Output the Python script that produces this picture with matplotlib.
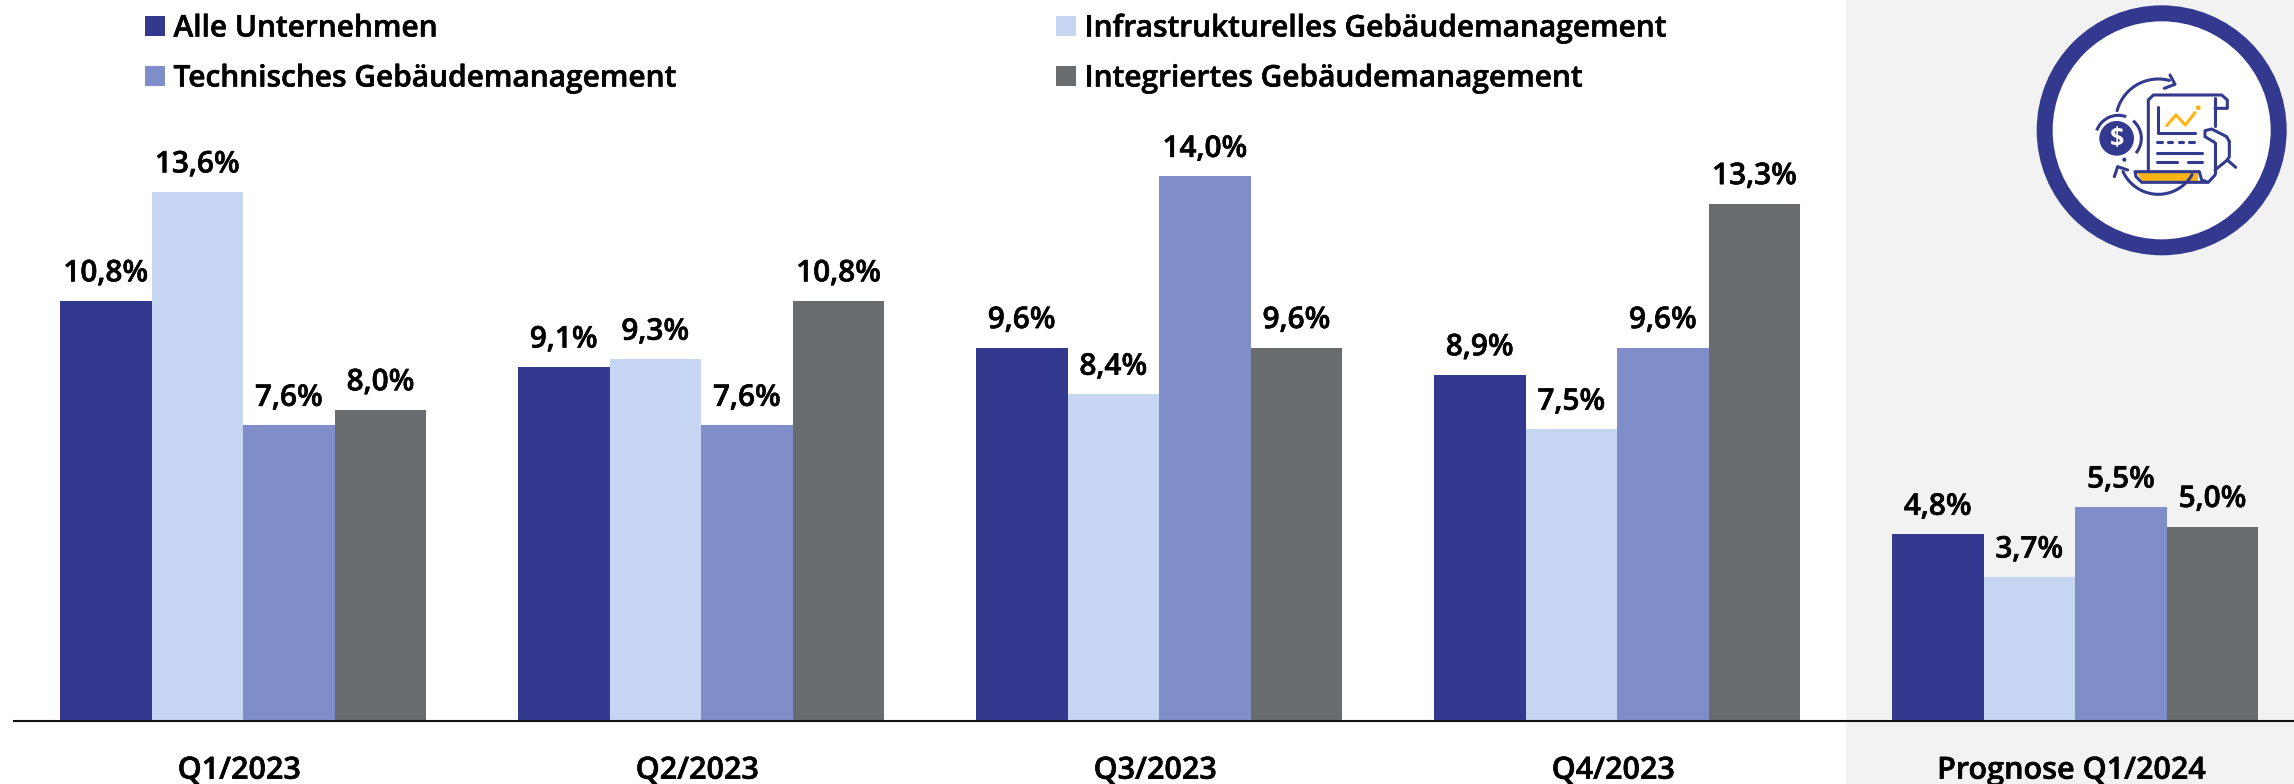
import numpy as np
import matplotlib
matplotlib.use("Agg")
import matplotlib.pyplot as plt
import matplotlib.patheffects as pe
from matplotlib.patches import Circle, Polygon, Rectangle, Arc
from matplotlib.transforms import ScaledTranslation

plt.rcParams['font.family'] = ['Open Sans', 'DejaVu Sans']

quartale = ["Q1/2023", "Q2/2023", "Q3/2023", "Q4/2023", "Prognose Q1/2024"]
alle = [10.8, 9.1, 9.6, 8.9, 4.8]
infra = [13.6, 9.3, 8.4, 7.5, 3.7]
technisch = [7.6, 7.6, 14.0, 9.6, 5.5]
integriert = [8.0, 10.8, 9.6, 13.3, 5.0]

namen = ["Alle Unternehmen", "Infrastrukturelles Gebäudemanagement",
         "Technisches Gebäudemanagement", "Integriertes Gebäudemanagement"]
farben = ["#32398E", "#C5D5F2", "#7F8DC8", "#686C6E"]
serien = [alle, infra, technisch, integriert]

W, H = 2294, 784
fig = plt.figure(figsize=(W/100, H/100), dpi=100, facecolor="white")

# semibold plus ein wenig Kontur
dick = [pe.withStroke(linewidth=0.4, foreground="black")]

# grauer Bereich fuer die Prognose
fig.add_artist(Rectangle((1846/W, 0), (W-1846)/W, 1, transform=fig.transFigure,
                         facecolor="#F2F2F2", edgecolor="none", zorder=0))

base = 721
ax = fig.add_axes([14/W, 1-base/H, (W-14)/W, base/H])
ax.patch.set_alpha(0)
ax.set_xlim((14-243.2)/458, (W-243.2)/458)
ax.set_ylim(0, base/38.9)

x = np.arange(len(quartale))
breite = 91.6/458
for i in range(4):
    pos = x + (i-1.5)*breite
    ax.bar(pos, serien[i], breite, color=farben[i], label=namen[i])
    for p, v in zip(pos, serien[i]):
        ax.annotate(f"{v:.1f}%".replace(".", ","), (p, v), xytext=(0, 9),
                    textcoords="offset points", ha="center", va="bottom",
                    fontsize=21.5, fontweight="semibold", color="black", path_effects=dick)

for s in ["top", "right", "left"]:
    ax.spines[s].set_visible(False)
ax.spines["bottom"].set_linewidth(1.5)
ax.spines["bottom"].set_color("#111111")
ax.set_yticks([])
ax.set_xticks(x)
ax.set_xticklabels(quartale, fontsize=22, fontweight="semibold", path_effects=dick)
ax.tick_params(axis="x", length=0, pad=25)
for lab in ax.get_xticklabels():
    lab.set_transform(lab.get_transform() + ScaledTranslation(-3/72, 0, fig.dpi_scale_trans))

# Legende von Hand, zwei Spalten
spalten = [(145, 26), (1056, 26), (145, 76), (1056, 76)]
for (px, py), n, c in zip(spalten, namen, farben):
    fig.add_artist(Rectangle((px/W, 1-(py+10)/H), 20/W, 20/H, transform=fig.transFigure,
                             facecolor=c, edgecolor="none"))
    fig.text((px+28.5)/W, 1-(py+2.5)/H, n, fontsize=21.5, fontweight="semibold",
             va="center", ha="left", path_effects=dick)

# Icon oben rechts, Koordinaten im 3x Ausschnitt
ic = fig.add_axes([1950/W, 1-280/H, 344/W, 280/H])
ic.set_xlim(0, 1032)
ic.set_ylim(840, 0)
ic.axis("off")
blau = "#32398E"
gelb = "#FDB414"
ic.add_patch(Circle((635, 391), 351, facecolor="white", edgecolor=blau, linewidth=11.5))

def linie(xs, ys, c=blau, lw=2.2):
    ic.plot(xs, ys, color=c, lw=lw, solid_capstyle="round", solid_joinstyle="round")

# Papier
linie([595, 595, 610, 815, 832, 832, 795], [510, 300, 285, 285, 300, 325, 325])
linie([795, 795], [295, 378])
linie([795, 795], [430, 520])
linie([625, 625, 735], [320, 398, 398])
linie([650, 678, 706, 735], [377, 345, 375, 338], c=gelb)
ic.add_patch(Circle((745, 323), 5, color=gelb))
linie([622, 635], [427, 427]); linie([653, 666], [427, 427])
linie([686, 699], [427, 427]); linie([718, 731], [427, 427])
linie([622, 755], [458, 458])
linie([622, 681], [485, 485]); linie([714, 755], [485, 485])
# unterer Rand mit gelbem Streifen
ic.add_patch(Polygon([[560, 520], [745, 520], [745, 543], [575, 543]], facecolor=gelb, edgecolor="none"))
linie([745, 555, 558, 575, 770], [515, 515, 530, 547, 547])
linie([748, 755, 775, 795], [515, 540, 547, 525])
# Hand
linie([795, 832, 838, 838], [510, 480, 470, 425])
linie([832, 857], [480, 502])
linie([838, 830, 785, 765, 765, 795], [425, 410, 387, 392, 410, 428])
# Muenze
ic.add_patch(Circle((500, 415), 52, facecolor=blau, edgecolor="none"))
ic.text(500, 415, "$", color="white", fontsize=18, ha="center", va="center", fontweight="bold")
ic.add_patch(Arc((505, 415), 138, 138, theta1=-50, theta2=40, color=blau, lw=2.2))
ic.add_patch(Arc((505, 415), 138, 138, theta1=200, theta2=290, color=blau, lw=2.2))
ic.add_patch(Circle((523, 479), 4, color=blau))
# Pfeile
t = np.radians(np.linspace(195, 285, 30))
linie(625+128*np.cos(t), 365+128*np.sin(t))
linie([643, 675, 660], [265, 253, 225])
t = np.radians(np.linspace(30, 155, 30))
linie(625+130*np.cos(t)*0.9, 465+118*np.sin(t))
linie([493, 503, 533], [530, 500, 510])

fig.savefig("out.png", dpi=100)
